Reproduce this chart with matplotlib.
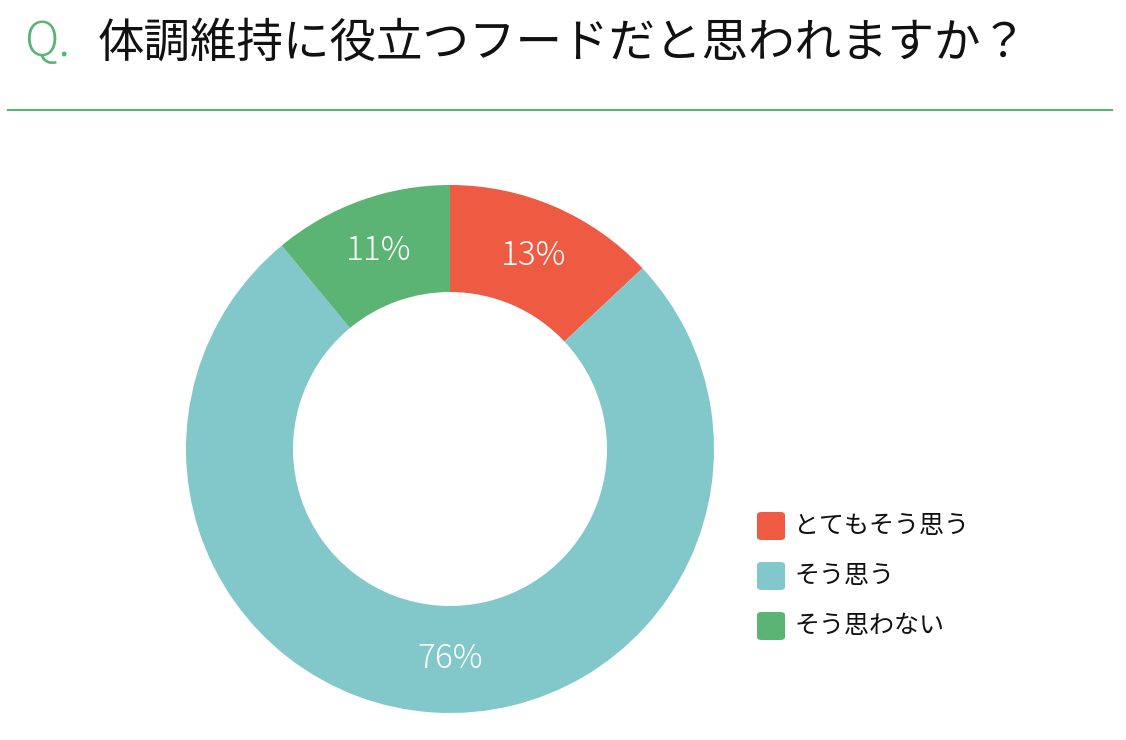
import matplotlib
matplotlib.use("Agg")
import matplotlib.pyplot as plt
from matplotlib.patches import FancyBboxPatch

plt.rcParams['font.family'] = ['Noto Sans CJK JP', 'DejaVu Sans']

# data
labels = ['とてもそう思う', 'そう思う', 'そう思わない']
values = [13, 76, 11]
colors = ['#EE5A42', '#82C8CA', '#5BB473']
question = '体調維持に役立つフードだと思われますか？'

W, H = 1126, 740
fig = plt.figure(figsize=(W / 100, H / 100), dpi=100)

# title
fig.text(24 / W, 1 - 43 / H, 'Q.', color='#5BB473', fontsize=34, fontweight='light',
         va='center', ha='left')
fig.text(98 / W, 1 - 43 / H, question, color='#111111', fontsize=33.5, va='center', ha='left')
fig.add_artist(plt.Line2D([8 / W, 1112 / W], [1 - 110 / H, 1 - 110 / H], color='#5BB473', lw=1.5))

# donut
cx, cy, r_out, r_in = 450, 449, 264, 157
ax = fig.add_axes([(cx - r_out) / W, (H - cy - r_out) / H, 2 * r_out / W, 2 * r_out / H])
wedges, texts = ax.pie(values, colors=colors, startangle=90, counterclock=False,
                       radius=1, wedgeprops=dict(width=(r_out - r_in) / r_out, edgecolor='none'),
                       labels=[f'{v}%' for v in values],
                       labeldistance=(r_out + r_in) / 2 / r_out)
for t in texts:
    t.set_color('white')
    t.set_fontsize(24)
    t.set_fontweight('light')
    t.set_ha('center')
    t.set_va('center')
# the big slice label sits right under the hole in the original
texts[1].set_x(0.0)
ax.set_xlim(-1, 1)
ax.set_ylim(-1, 1)
ax.set_aspect('equal')
ax.axis('off')

# legend
for i, (lab, col) in enumerate(zip(labels, colors)):
    yc = 526 + 50 * i
    box = FancyBboxPatch(((757) / W, 1 - (yc + 14) / H), 28 / W, 28 / H,
                         boxstyle='round,pad=0,rounding_size=0.004',
                         transform=fig.transFigure, facecolor=col, edgecolor='none')
    fig.add_artist(box)
    fig.text(794 / W, 1 - yc / H, lab, fontsize=18, va='center', ha='left', color='#111111')

fig.savefig('out.png', dpi=100)
